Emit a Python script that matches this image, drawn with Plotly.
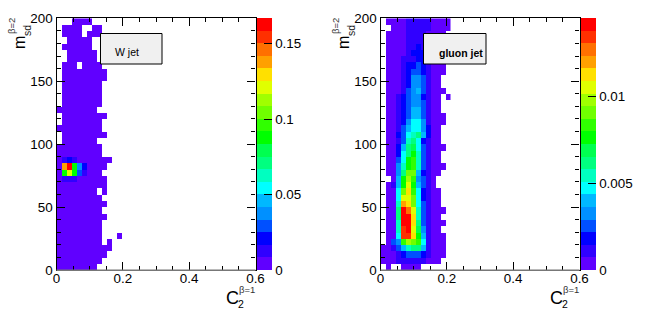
import plotly.graph_objects as go

W, H = 648, 313
# ---------- data ----------
x_centers = [0.0075 + 0.015 * i for i in range(14)]
y_centers = [2.5 + 5 * i for i in range(40)]
_ = None
a = 0.003

# W jet, rows top (y=197.5) to bottom (y=2.5)
w_rows = [
    [_,_,_,a,a,a,a,_,_,_,_,_,_,_],
    [_,a,a,a,a,_,_,a,a,_,_,_,_,_],
    [_,a,a,a,a,_,a,a,a,_,_,_,_,_],
    [_,_,a,a,a,a,a,_,_,_,_,_,_,_],
    [_,a,a,a,a,a,a,_,_,_,_,_,_,_],
    [_,_,a,a,a,a,a,a,_,_,_,_,_,_],
    [_,_,a,a,a,a,a,a,_,_,_,_,_,_],
    [_,a,a,a,_,a,a,a,a,_,_,_,_,_],
    [_,a,a,a,a,a,a,a,a,a,_,_,_,_],
    [_,a,a,a,a,a,a,a,a,a,_,_,_,_],
    [_,a,a,a,a,a,a,a,a,_,_,_,_,_],
    [_,a,a,a,a,a,a,a,a,_,_,_,_,_],
    [_,a,a,a,a,a,a,a,a,_,_,_,_,_],
    [_,a,a,a,a,a,a,a,a,_,_,_,_,_],
    [a,a,a,a,a,a,a,a,_,_,_,_,_,_],
    [_,a,a,a,a,a,a,a,a,a,_,_,_,_],
    [_,a,a,a,a,a,a,a,a,_,_,_,_,_],
    [a,a,a,a,a,a,a,a,a,_,_,_,_,_],
    [_,a,a,a,a,a,a,a,a,a,_,_,_,_],
    [_,a,a,a,a,a,a,a,_,_,_,_,_,_],
    [a,a,a,a,a,a,a,a,a,_,_,_,_,_],
    [a,a,a,a,a,a,a,a,a,_,_,_,_,_],
    [a,0.011,0.02,0.011,a,a,a,a,a,a,a,_,_,_],
    [a,0.14,0.165,0.09,0.04,0.02,a,a,a,a,_,_,_,_],
    [a,0.085,0.12,0.09,0.03,0.014,a,a,a,_,_,_,_,_],
    [a,0.011,0.013,0.011,a,a,a,a,a,a,_,_,_,_],
    [a,a,a,a,a,a,a,a,a,a,_,_,_,_],
    [a,a,a,a,a,a,a,a,_,a,_,_,_,_],
    [a,a,a,a,a,a,a,a,a,_,_,_,_,_],
    [a,a,a,a,a,a,a,a,a,a,_,_,_,_],
    [a,a,a,a,a,a,a,a,a,_,_,_,_,_],
    [a,a,a,a,a,a,a,a,a,a,_,_,_,_],
    [a,a,a,a,a,a,a,a,a,_,_,_,_,_],
    [a,a,a,a,a,a,a,a,a,_,_,_,_,_],
    [a,a,a,a,a,a,a,a,a,_,_,_,a,_],
    [a,a,a,a,a,a,a,a,a,_,a,_,_,_],
    [a,a,a,a,a,a,a,a,a,a,a,_,_,_],
    [a,a,a,a,a,a,a,a,a,a,_,_,_,_],
    [a,a,a,a,a,a,a,a,a,_,_,_,_,_],
    [a,a,a,a,a,a,a,a,_,_,_,_,_,_],
]

# gluon jet, rows top to bottom, in units of 1e-4
g_rows = [
    [_,4,4,4,4,11,11,11,11,11,4,4,4,4],
    [_,_,4,4,4,11,11,11,11,11,4,4,4,4],
    [_,4,4,4,4,11,11,11,11,4,4,4,4,_],
    [_,4,4,4,4,11,11,11,11,4,4,4,4,_],
    [_,4,4,4,4,11,11,18,11,11,4,4,4,_],
    [_,4,4,4,4,11,18,18,18,11,4,4,4,_],
    [_,4,4,4,11,11,11,18,18,11,11,4,4,_],
    [_,4,4,4,11,18,18,25,18,11,4,4,4,_],
    [_,4,4,4,11,18,25,25,18,11,4,4,4,_],
    [_,4,4,4,11,18,33,33,25,11,4,4,_,_],
    [_,4,4,4,11,18,33,33,25,11,4,4,_,_],
    [_,4,4,4,11,25,33,40,25,11,4,4,4,_],
    [_,4,4,11,18,25,33,33,18,11,4,4,_,4],
    [_,4,4,11,18,25,33,33,25,11,4,4,_,_],
    [_,4,4,11,18,25,40,40,25,11,4,4,_,_],
    [_,4,4,11,18,25,40,40,25,11,4,4,4,_],
    [_,4,4,11,18,33,47,47,33,11,4,4,4,_],
    [_,4,4,11,25,40,47,47,33,18,4,4,_,_],
    [_,4,4,18,25,47,54,62,40,18,4,4,_,_],
    [_,4,4,11,25,54,62,47,18,11,4,4,_,_],
    [_,4,4,18,40,62,69,47,25,11,4,4,4,_],
    [_,4,4,18,47,62,76,54,25,11,4,4,_,_],
    [_,4,4,25,47,76,83,54,25,11,4,4,_,_],
    [_,4,4,33,54,76,83,54,25,11,4,4,4,_],
    [_,4,4,33,62,91,91,40,18,11,4,4,_,_],
    [_,_,4,40,76,98,83,33,25,11,4,_,_,_],
    [_,4,11,40,76,105,76,40,25,11,4,_,_,_],
    [_,4,4,47,91,112,83,47,18,11,4,4,_,_],
    [_,4,4,47,105,105,91,47,18,11,4,4,_,_],
    [_,4,4,54,120,112,91,47,25,11,4,4,_,_],
    [_,4,4,62,141,127,105,54,25,11,4,4,4,_],
    [_,4,4,62,141,141,112,54,25,11,4,4,_,_],
    [_,4,4,54,141,141,112,62,25,11,4,4,4,_],
    [_,4,4,54,134,141,105,69,33,11,4,4,_,_],
    [_,4,4,47,134,134,112,76,40,11,4,4,4,_],
    [_,4,25,33,83,98,91,83,47,11,4,4,4,_],
    [4,4,11,25,40,54,62,62,40,11,4,4,4,_],
    [4,4,4,11,18,25,25,25,18,11,4,4,4,_],
    [4,4,4,11,11,11,11,11,11,4,4,4,_,_],
    [_,4,_,_,4,4,4,4,_,_,_,_,_,_],
]

w_zmax = 0.167
g_zmax = 0.01453
w_ticks = [0, 0.05, 0.1, 0.15]
w_ticktext = ["0", "0.05", "0.1", "0.15"]
g_ticks = [0, 0.005, 0.01]
g_ticktext = ["0", "0.005", "0.01"]

palette = ["#6000ff","#3000ff","#0000ff","#0050ff","#0090ff","#00b8ff","#00ffff","#00ffc0",
           "#00ff80","#00ff50","#00ff00","#30ff00","#70ff00","#a0ff00","#e0ff00","#ffe000",
           "#ffa000","#ff7000","#ff3000","#ff0000"]

# ---------- styling ----------
stepped = []
for i, c in enumerate(palette):
    stepped += [[i / 20, c], [(i + 1) / 20, c]]

FONT = "Liberation Sans, Arial, sans-serif"
TICK = 13.4
top_px, bot_px = 18.3, 270
y_dom = [1 - bot_px / H, 1 - top_px / H]
panels = [(56.5, 255.5), (380.5, 579.5)]

def px(x):
    return x / W

def py(y):
    return 1 - y / H

fig = go.Figure()

def heat(rows, zmax, scale, ax, left_cb, ticks, text):
    z = [[None if v is None else v * scale for v in r] for r in rows[::-1]]
    fig.add_trace(go.Heatmap(
        x=x_centers, y=y_centers, z=z, zmin=0, zmax=zmax, colorscale=stepped, xaxis="x" + ax, yaxis="y" + ax,
        hoverongaps=False, zsmooth=False,
        colorbar=dict(x=px(left_cb), xanchor="left", xpad=0, y=y_dom[0], yanchor="bottom", ypad=0,
                      len=y_dom[1] - y_dom[0], lenmode="fraction", thickness=15, thicknessmode="pixels",
                      outlinewidth=0, tickmode="array", tickvals=ticks, ticktext=text,
                      ticks="inside", ticklen=8, tickcolor="black", tickwidth=1,
                      tickfont=dict(family=FONT, size=TICK, color="black")),
    ))

heat(w_rows, w_zmax, 1, "", 256.5, w_ticks, w_ticktext)
heat(g_rows, g_zmax, 1e-4, "2", 581, g_ticks, g_ticktext)

xcommon = dict(range=[0, 0.6], tick0=0, dtick=0.2, ticks="inside", ticklen=8, tickcolor="black", tickwidth=1,
               minor=dict(dtick=0.05, tick0=0, ticks="inside", ticklen=4, tickcolor="black", tickwidth=1),
               showline=True, linecolor="black", linewidth=1.3, mirror="allticks", showgrid=False, zeroline=False,
               tickfont=dict(family=FONT, size=TICK, color="black"), tickformat="~g", ticklabelstandoff=-4)
ycommon = dict(range=[0, 200], tick0=0, dtick=50, ticks="inside", ticklen=8, tickcolor="black", tickwidth=1,
               minor=dict(dtick=10, tick0=0, ticks="inside", ticklen=4, tickcolor="black", tickwidth=1),
               showline=True, linecolor="black", linewidth=1.3, mirror="allticks", showgrid=False, zeroline=False,
               tickfont=dict(family=FONT, size=TICK, color="black"))

fig.update_layout(
    width=W, height=H, margin=dict(l=0, r=0, t=0, b=0, autoexpand=False), paper_bgcolor="white", plot_bgcolor="white",
    showlegend=False,
    xaxis=dict(domain=[px(panels[0][0]), px(panels[0][1])], anchor="y", **xcommon),
    yaxis=dict(domain=y_dom, anchor="x", **ycommon),
    xaxis2=dict(domain=[px(panels[1][0]), px(panels[1][1])], anchor="y2", **xcommon),
    yaxis2=dict(domain=y_dom, anchor="x2", **ycommon),
)

def note(x, y, text, size, angle=0, anchor="center", bold=False, color="black"):
    fig.add_annotation(xref="paper", yref="paper", x=px(x), y=py(y), text=f"<b>{text}</b>" if bold else text,
                       showarrow=False, textangle=angle, xanchor=anchor, yanchor="middle",
                       font=dict(family=FONT, size=size, color=color))

# boxes
for x0, x1 in [(100.5, 162), (423.5, 486)]:
    fig.add_shape(type="rect", xref="paper", yref="paper", x0=px(x0), x1=px(x1), y0=py(64), y1=py(33.5),
                  fillcolor="#f0f0f0", line=dict(color="black", width=1), layer="above")
note(127, 52, "W jet", 10.5)
note(460.5, 53, "gluon jet", 10.5, bold=True)

# grey bottom frame line
for x0, x1 in panels:
    fig.add_shape(type="line", xref="paper", yref="paper", x0=px(x0), x1=px(x1), y0=py(270.3), y1=py(270.3),
                  line=dict(color="#777777", width=1.5), layer="above")

# axis titles
for dx in (0, 324):
    note(19.5 + dx, 42.5, "m", 16, angle=-90)
    note(27.5 + dx, 30.5, "sd", 10.5, angle=-90, color="#222222")
    note(12 + dx, 26, "β=2", 9.5, angle=-90, color="#333333")
    note(232 + dx, 298, "C", 18)
    note(240.5 + dx, 304, "2", 10.5)
    note(247 + dx, 289.5, "β=1", 9.5, color="#333333")

fig.write_html("out.html", config={"displayModeBar": False},
               post_script="document.body.style.margin='0';document.body.style.overflow='hidden';")
